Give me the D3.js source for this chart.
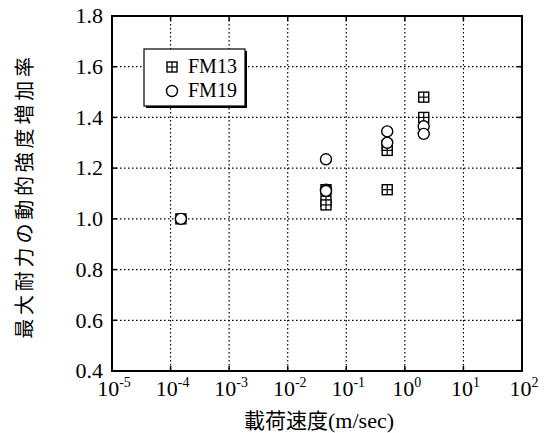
<!DOCTYPE html>
<html lang="ja">
<head>
<meta charset="UTF-8">
<title>動的強度増加率</title>
<script src="https://d3js.org/d3.v7.min.js"></script>
<style>
  body { margin: 0; background: #fff; }
</style>
</head>
<body>
<div id="chart"></div>
<script>
  const W = 547, H = 433;
  const margin = {top: 16, right: 25, bottom: 62, left: 112};
  const width = W - margin.left - margin.right,
        height = H - margin.top - margin.bottom;
  const serif = "Liberation Serif";
  const jp = "Noto Sans CJK JP";

  // data
  const fm13Speed = [1.5e-4, 0.045, 0.045, 0.045, 0.5, 0.5, 0.5, 2.1, 2.1];
  const fm13Ratio = [1.0, 1.115, 1.07, 1.055, 1.29, 1.27, 1.115, 1.48, 1.40];
  const fm19Speed = [1.5e-4, 0.045, 0.045, 0.045, 0.5, 0.5, 2.1, 2.1];
  const fm19Ratio = [1.0, 1.235, 1.115, 1.11, 1.345, 1.30, 1.365, 1.335];
  const xTickExp = [-5, -4, -3, -2, -1, 0, 1, 2];
  const yTicks = [0.4, 0.6, 0.8, 1.0, 1.2, 1.4, 1.6, 1.8];

  const svg = d3.select("#chart").append("svg")
      .attr("width", W).attr("height", H);
  const g = svg.append("g")
      .attr("transform", `translate(${margin.left},${margin.top})`);

  const x = d3.scaleLog().domain([1e-5, 1e2]).range([0, width]);
  const y = d3.scaleLinear().domain([0.4, 1.8]).range([height, 0]);

  // dotted grid
  g.selectAll("line.gx").data(xTickExp.slice(1, -1)).join("line")
      .attr("x1", d => x(Math.pow(10, d))).attr("x2", d => x(Math.pow(10, d)))
      .attr("y1", 0).attr("y2", height)
      .attr("stroke", "#000").attr("stroke-width", 1.2).attr("stroke-dasharray", "1.5,2.5");
  g.selectAll("line.gy").data(yTicks.slice(1, -1)).join("line")
      .attr("x1", 0).attr("x2", width)
      .attr("y1", d => y(d)).attr("y2", d => y(d))
      .attr("stroke", "#000").attr("stroke-width", 1.2).attr("stroke-dasharray", "1.5,2.5");

  // inner ticks on all sides
  const tl = 5;
  xTickExp.forEach(e => {
    const px = x(Math.pow(10, e));
    g.append("line").attr("x1", px).attr("x2", px).attr("y1", height).attr("y2", height - tl).attr("stroke", "#000").attr("stroke-width", 1.5);
    g.append("line").attr("x1", px).attr("x2", px).attr("y1", 0).attr("y2", tl).attr("stroke", "#000").attr("stroke-width", 1.5);
  });
  yTicks.forEach(v => {
    g.append("line").attr("x1", 0).attr("x2", tl).attr("y1", y(v)).attr("y2", y(v)).attr("stroke", "#000").attr("stroke-width", 1.5);
    g.append("line").attr("x1", width).attr("x2", width - tl).attr("y1", y(v)).attr("y2", y(v)).attr("stroke", "#000").attr("stroke-width", 1.5);
  });

  // frame
  g.append("rect").attr("width", width).attr("height", height)
      .attr("fill", "none").attr("stroke", "#000").attr("stroke-width", 2);

  // y tick labels
  g.selectAll("text.yl").data(yTicks).join("text")
      .attr("x", -9).attr("y", d => y(d)).attr("dy", "0.33em")
      .attr("text-anchor", "end").style("font-family", serif).attr("font-size", 22)
      .text(d => d.toFixed(1));

  // x tick labels 10^n
  const xl = g.selectAll("text.xl").data(xTickExp).join("text")
      .attr("x", d => x(Math.pow(10, d)) + 2).attr("y", height + 25)
      .attr("text-anchor", "middle").style("font-family", serif).attr("font-size", 22);
  xl.append("tspan").text("10");
  xl.append("tspan").attr("dy", -9).attr("font-size", 14).text(d => d);

  // axis titles
  const xt = svg.append("text")
      .attr("x", margin.left + width / 2 + 2).attr("y", 428)
      .attr("text-anchor", "middle").attr("font-size", 21);
  xt.append("tspan").style("font-family", jp).text("載荷速度");
  xt.append("tspan").style("font-family", serif).attr("font-size", 22).text("(m/sec)");
  svg.append("text")
      .attr("transform", "translate(32,196) rotate(-90)")
      .attr("text-anchor", "middle").style("font-family", jp).attr("font-size", 20)
      .style("letter-spacing", "3.8px")
      .text("最大耐力の動的強度増加率");

  // markers
  function square(sel, cx, cy) {
    const s = 5;
    sel.append("rect").attr("x", cx - s).attr("y", cy - s).attr("width", 2 * s).attr("height", 2 * s)
        .attr("fill", "#fff").attr("stroke", "#000").attr("stroke-width", 1.4);
    sel.append("line").attr("x1", cx - s).attr("x2", cx + s).attr("y1", cy).attr("y2", cy).attr("stroke", "#000").attr("stroke-width", 1.2);
    sel.append("line").attr("x1", cx).attr("x2", cx).attr("y1", cy - s).attr("y2", cy + s).attr("stroke", "#000").attr("stroke-width", 1.2);
  }
  function circle(sel, cx, cy) {
    sel.append("circle").attr("cx", cx).attr("cy", cy).attr("r", 5.5)
        .attr("fill", "#fff").attr("stroke", "#000").attr("stroke-width", 1.4);
  }

  const pts = g.append("g");
  fm13Speed.forEach((s, i) => square(pts, x(s), y(fm13Ratio[i])));
  fm19Speed.forEach((s, i) => circle(pts, x(s), y(fm19Ratio[i])));

  // legend with shadow
  const lg = svg.append("g").attr("transform", "translate(144,49)");
  lg.append("rect").attr("x", 2).attr("y", 2).attr("width", 101).attr("height", 57).attr("fill", "#000");
  lg.append("rect").attr("width", 101).attr("height", 57)
      .attr("fill", "#fff").attr("stroke", "#000").attr("stroke-width", 1.2);
  square(lg, 28, 18);
  circle(lg, 28, 42);
  lg.append("text").attr("x", 44).attr("y", 24).style("font-family", serif).attr("font-size", 20).text("FM13");
  lg.append("text").attr("x", 44).attr("y", 48).style("font-family", serif).attr("font-size", 20).text("FM19");
</script>
</body>
</html>
